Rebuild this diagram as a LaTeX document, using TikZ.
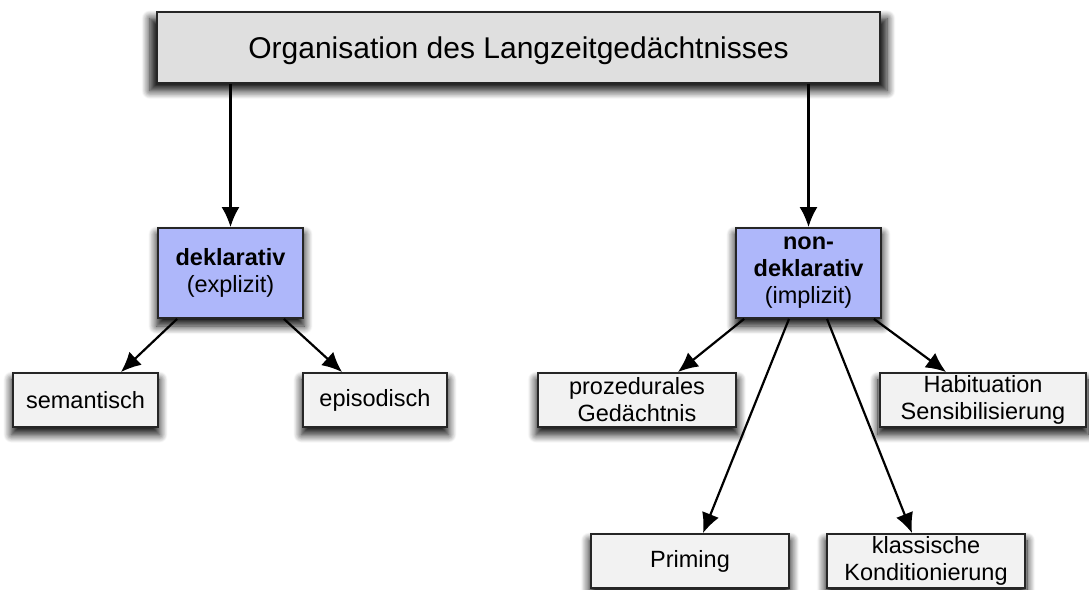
\documentclass[tikz,border=0pt]{standalone}
\usepackage{fontspec}
\setmainfont{Liberation Sans}
\usetikzlibrary{arrows.meta,shadows.blur}
\definecolor{topgray}{HTML}{DFDFDF}
\definecolor{leafgray}{HTML}{F2F2F2}
\definecolor{midblue}{HTML}{AEB7FA}
\begin{document}
\begin{tikzpicture}[x=1pt,y=-1pt,
  box/.style={draw=black!85, line width=1.8pt, align=center, inner sep=0pt,
    font=\fontsize{23.5}{27}\selectfont,
    blur shadow={shadow xshift=0pt, shadow yshift=-7pt, shadow scale=1.02,
      shadow blur radius=8pt, shadow blur steps=12, shadow opacity=95}},
  leaf/.style={box, fill=leafgray, minimum height=54pt},
  mid/.style={box, fill=midblue, minimum width=145pt, minimum height=90pt},
  link/.style={line width=2.2pt, -{Latex[length=20pt,width=18pt]}}]
\useasboundingbox (0,0) rectangle (1089,589);

% root
\node[box, fill=topgray, minimum width=723pt, minimum height=71pt,
  font=\fontsize{30}{36}\selectfont] (top) at (518.5,47.5)
  {\raisebox{-3pt}[\height][\depth]{Organisation des Langzeitgedächtnisses}};

% two main branches
\node[mid] (dek) at (230.5,273) {\textbf{deklarativ}\\(explizit)};
\node[mid] (ndek) at (808.5,273) {\textbf{non-}\\\textbf{deklarativ}\\(implizit)};

% leaves
\node[leaf, minimum width=145pt] (sem) at (85.5,400) {semantisch};
\node[leaf, minimum width=144pt] (epi) at (375,400) {episodisch};
\node[leaf, minimum width=198pt] (proz) at (637,400) {prozedurales\\Gedächtnis};
\node[leaf, minimum width=206pt] (hab) at (983,400) {Habituation\\Sensibilisierung};
\node[leaf, minimum width=198pt] (prim) at (690,561) {Priming};
\node[leaf, minimum width=198pt] (klass) at (926,561) {klassische\\Konditionierung};

% connectors
\draw[link] (top.south -| dek.north) -- (dek.north);
\draw[link] (top.south -| ndek.north) -- (ndek.north);
\draw[link] ([xshift=20pt]dek.south west) -- ([xshift=-38pt]sem.north east);
\draw[link] ([xshift=-20pt]dek.south east) -- ([xshift=40pt]epi.north west);
\draw[link] ([xshift=9pt]ndek.south west) -- ([xshift=-59pt]proz.north east);
\draw[link] ([xshift=-8pt]ndek.south east) -- ([xshift=67pt]hab.north west);
\draw[link] ([xshift=-19.5pt]ndek.south) -- ([xshift=13pt]prim.north);
\draw[link] ([xshift=18.5pt]ndek.south) -- ([xshift=-14pt]klass.north);
\end{tikzpicture}
\end{document}
